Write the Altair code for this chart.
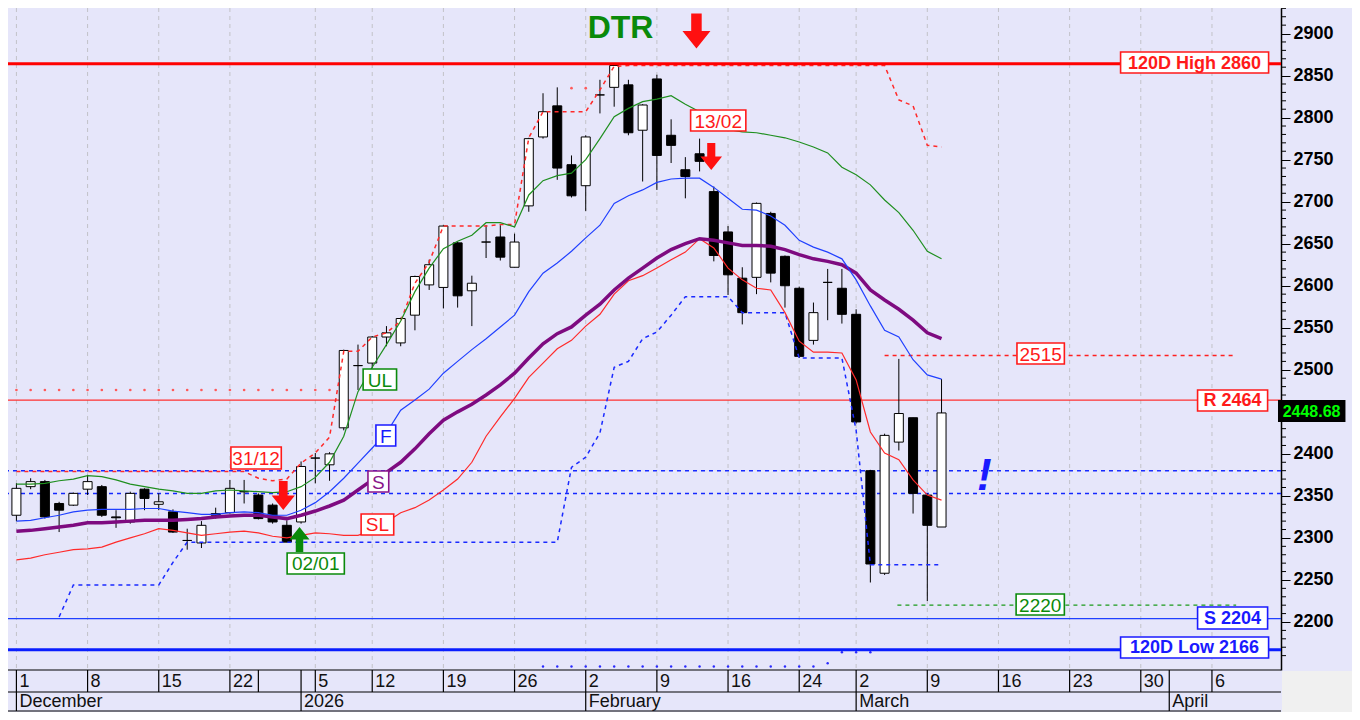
import altair as alt
import pandas as pd

# ---------------- price bars: trading-day index 0..65 (1 Dec 2025 .. 10 Mar 2026) -------------
opens = [2327, 2361, 2367, 2341, 2339, 2358, 2361, 2325, 2319, 2358,
         2340, 2331, 2297, 2294, 2329, 2330, 2355, 2351, 2339, 2315,
         2319, 2395, 2387, 2431, 2505, 2508, 2539, 2532, 2565, 2601,
         2598, 2651, 2594, 2652, 2658, 2622, 2695, 2777, 2814, 2744,
         2719, 2827, 2836, 2839, 2785, 2846, 2779, 2738, 2757, 2712,
         2664, 2609, 2610, 2686, 2635, 2597, 2535, 2604, 2597, 2566,
         2380, 2258, 2414, 2443, 2351, 2313]
highs = [2365, 2371, 2369, 2343, 2354, 2375, 2363, 2333, 2355, 2359,
         2353, 2334, 2311, 2320, 2336, 2369, 2369, 2353, 2341, 2321,
         2391, 2401, 2402, 2524, 2530, 2540, 2552, 2562, 2612, 2631,
         2672, 2652, 2612, 2672, 2672, 2662, 2776, 2829, 2836, 2755,
         2779, 2845, 2864, 2845, 2816, 2851, 2798, 2753, 2775, 2718,
         2671, 2622, 2699, 2688, 2636, 2599, 2580, 2620, 2620, 2572,
         2381, 2424, 2513, 2443, 2353, 2489]
lows = [2320, 2358, 2323, 2307, 2338, 2351, 2325, 2312, 2317, 2333,
        2333, 2306, 2286, 2288, 2323, 2329, 2341, 2322, 2317, 2295,
        2317, 2365, 2368, 2428, 2476, 2502, 2528, 2528, 2547, 2595,
        2573, 2574, 2552, 2633, 2630, 2622, 2688, 2775, 2726, 2705,
        2689, 2805, 2813, 2779, 2724, 2714, 2746, 2704, 2736, 2629,
        2589, 2554, 2590, 2604, 2574, 2514, 2530, 2559, 2555, 2436,
        2247, 2256, 2404, 2329, 2225, 2313]
closes = [2359, 2367, 2325, 2333, 2353, 2367, 2327, 2324, 2353, 2347,
          2343, 2307, 2297, 2315, 2327, 2359, 2355, 2323, 2319, 2295,
          2385, 2395, 2400, 2523, 2505, 2539, 2544, 2561, 2611, 2625,
          2671, 2588, 2603, 2652, 2634, 2652, 2775, 2807, 2740, 2707,
          2777, 2827, 2862, 2782, 2815, 2755, 2767, 2730, 2748, 2636,
          2613, 2568, 2698, 2615, 2600, 2516, 2568, 2604, 2566, 2438,
          2269, 2422, 2448, 2353, 2315, 2448.68]

# ---------------- indicator lines (one value per bar) ----------------
ul_line = [2364, 2364, 2365, 2368, 2370, 2374, 2373, 2369, 2364, 2361,
           2358, 2356, 2353, 2353, 2356, 2357, 2356, 2355, 2354, 2355,
           2361, 2372, 2390, 2421, 2474, 2503, 2530, 2558, 2593, 2621,
           2644, 2653, 2660, 2675, 2675, 2670, 2708, 2725, 2731, 2734,
           2750, 2775, 2801, 2811, 2819, 2822, 2826, 2816, 2807, 2795,
           2786, 2783, 2782, 2779, 2776, 2771, 2765, 2758, 2741, 2732,
           2720, 2702, 2687, 2666, 2641, 2632]
f_line = [2320, 2321, 2324, 2327, 2331, 2333, 2334, 2334, 2334, 2335,
          2335, 2332, 2330, 2328, 2328, 2330, 2331, 2330, 2327, 2327,
          2333, 2342, 2355, 2371, 2389, 2407, 2425, 2452, 2464, 2477,
          2496, 2510, 2524, 2537, 2551, 2565, 2593, 2615, 2627, 2641,
          2657, 2672, 2698, 2707, 2714, 2723, 2727, 2728, 2728, 2717,
          2704, 2691, 2690, 2683, 2672, 2654, 2646, 2640, 2632, 2607,
          2576, 2547, 2539, 2512, 2494, 2489]
s_line = [2308, 2309, 2311, 2313, 2315, 2318, 2318, 2319, 2320, 2321,
          2321, 2321, 2322, 2323, 2325, 2326, 2327, 2327, 2325, 2323,
          2327, 2332, 2338, 2345, 2357, 2369, 2378, 2390, 2406, 2424,
          2440, 2450, 2459, 2470, 2482, 2496, 2514, 2531, 2543, 2551,
          2565, 2578, 2595, 2609, 2621, 2633, 2643, 2650, 2656, 2654,
          2651, 2648, 2648, 2647, 2643, 2637, 2632, 2629, 2625, 2615,
          2595, 2583, 2572, 2559, 2544, 2537]
sl_line = [2274, 2276, 2280, 2283, 2286, 2287, 2289, 2295, 2300, 2305,
           2311, 2309, 2306, 2303, 2305, 2307, 2308, 2306, 2302, 2300,
           2303, 2306, 2305, 2303, 2303, 2309, 2319, 2330, 2336, 2345,
           2357, 2370, 2390, 2421, 2444, 2466, 2491, 2508, 2525, 2535,
           2552, 2566, 2590, 2606, 2612, 2621, 2631, 2640, 2656, 2645,
           2621, 2607, 2597, 2595, 2568, 2534, 2521, 2521, 2520, 2488,
           2426, 2401, 2393, 2369, 2351, 2345]
hh_line = [2379, 2379, 2379, 2379, 2379, 2379, 2379, 2379, 2379, 2379,
           2379, 2379, 2379, 2379, 2379, 2379, 2379, 2371, 2368, 2370,
           2389, 2401, 2420, 2522, 2522, 2539, 2544, 2558, 2603, 2628,
           2671, 2671, 2671, 2671, 2673, 2673, 2776, 2807, 2807, 2807,
           2807, 2833, 2861, 2862, 2862, 2862, 2862, 2862, 2862, 2862,
           2862, 2862, 2862, 2862, 2862, 2862, 2862, 2862, 2862, 2862,
           2862, 2862, 2821, 2814, 2767, 2765]
ll_line = [None, None, None, 2206, 2244, 2244, 2244, 2244, 2244, 2244,
           2244, 2271, 2295, 2295, 2295, 2295, 2295, 2295, 2295, 2295,
           2295, 2295, 2295, 2295, 2295, 2295, 2295, 2295, 2295, 2295,
           2295, 2295, 2295, 2295, 2295, 2295, 2295, 2295, 2295, 2384,
           2396, 2425, 2503, 2510, 2537, 2545, 2565, 2587, 2587, 2587,
           2587, 2568, 2568, 2568, 2568, 2514, 2514, 2514, 2514, 2428,
           2268, 2268, 2268, 2268, 2268, 2268]

# dotted marker series
rdot_idx = [0, 1, 2, 3, 4, 5, 6, 7, 8, 9, 10, 11, 12, 13, 14, 15, 16, 17, 18, 19, 20, 21, 22, 39, 40]
rdot_val = [2476, 2476, 2476, 2476, 2476, 2476, 2476, 2476, 2476, 2476, 2476, 2476, 2476,
            2476, 2476, 2476, 2476, 2476, 2476, 2476, 2476, 2476, 2476, 2835, 2835]
bdot_idx = [37, 38, 39, 40, 41, 42, 43, 44, 45, 46, 47, 48, 49, 50, 51, 52, 53, 54, 55, 56, 57, 58, 59, 60]
bdot_val = [2147, 2147, 2147, 2147, 2147, 2147, 2147, 2147, 2147, 2147, 2147, 2147, 2147,
            2147, 2147, 2147, 2147, 2147, 2147, 2147, 2151, 2164, 2164, 2164]

# horizontal levels
high120 = 2864
low120 = 2167
r_level = 2464
s_level = 2204
blue_levels = [2380, 2353]
level_2515 = 2517
level_2220 = 2220

# price-axis labels (2450 is hidden behind the last-price box)
y_labels = [2200, 2250, 2300, 2350, 2400, 2500, 2550, 2600, 2650, 2700, 2750, 2800, 2850, 2900]
y_major = [2200, 2250, 2300, 2350, 2400, 2450, 2500, 2550, 2600, 2650, 2700, 2750, 2800, 2850, 2900]

# date axis (bar indices)
grid_idx = [0, 5, 10, 15, 21, 25, 30, 35, 40, 45, 50, 55, 59, 64, 69, 74, 79, 84]
day_sep = [0, 5, 10, 15, 17, 20, 21, 25, 30, 35, 40, 45, 50, 55, 59, 64, 69, 74, 79, 81, 84]
day_idx = [0, 5, 10, 15, 21, 25, 30, 35, 40, 45, 50, 55, 59, 64, 69, 74, 79, 84]
day_txt = ["1", "8", "15", "22", "5", "12", "19", "26", "2", "9", "16", "24", "2", "9", "16", "23", "30", "6"]
month_idx = [0, 20, 40, 59, 81]
month_txt = ["December", "2026", "February", "March", "April"]

# annotation boxes: text, x1, x2 (bar index), top, bottom (price), colour, bold
box_txt = ["120D High 2860", "R 2464", "S 2204", "120D Low 2166", "2515", "2220",
           "13/02", "31/12", "02/01", "UL", "F", "S", "SL"]
box_x1 = [77.58, 82.99, 82.99, 77.58, 70.30, 70.24, 47.37, 15.07, 19.02, 24.36, 25.26, 24.70, 24.22]
box_x2 = [87.98, 87.91, 87.91, 87.98, 73.63, 73.63, 51.25, 18.61, 23.04, 26.71, 26.65, 26.16, 26.51]
box_top = [2878.0, 2476.0, 2217.8, 2182.2, 2531.9, 2233.3, 2809.0, 2408.2, 2282.1, 2500.9, 2434.3, 2379.6, 2328.5]
box_bot = [2853.0, 2451.0, 2191.7, 2157.2, 2506.9, 2208.3, 2784.0, 2382.0, 2257.1, 2476.0, 2409.4, 2354.6, 2303.5]
RED, GRN, BLU, PUR = "#ff1a1a", "#0b8a0b", "#1a1aff", "#8a168a"
box_col = [RED, RED, BLU, BLU, RED, GRN, RED, RED, GRN, GRN, BLU, PUR, RED]
box_bold = [True, True, True, True, False, False, False, False, False, False, False, False, False]

# arrows
DOWN = "M-0.3,-1L0.3,-1L0.3,0L0.8,0L0,1L-0.8,0L-0.3,0Z"
UP = "M-0.3,1L0.3,1L0.3,0L0.8,0L0,-1L-0.8,0L-0.3,0Z"
arr_idx = [47.78, 48.82, 18.75, 19.89]
arr_val = [2903.0, 2753.7, 2350.5, 2298.1]
arr_shape = [DOWN, DOWN, DOWN, UP]
arr_size = [1225, 729, 841, 625]
arr_col = ["#ff1010", "#ff1010", "#ff1010", "#0a8a0a"]

last_close_txt = "2448.68"

# ---------------- chart ----------------
W, H = 1273, 662
PADR, PADB = 71, 42
FONT = "Liberation Sans"
xs = alt.Scale(domain=[-0.24, 88.5], nice=False, zero=False)
ys = alt.Scale(domain=[2142.9, 2930.4], nice=False, zero=False)
YAX = alt.Axis(orient="right", values=y_labels, format="d", title=None,
               labelFont=FONT, labelFontSize=18, labelFontWeight="bold", labelColor="#000000",
               tickSize=9, tickColor="#000000", tickWidth=1, domainColor="#000000", domainWidth=1.5,
               labelPadding=3, grid=False, labelOverlap=False, labelFlush=False)


def X(f="i"):
    return alt.X(f"{f}:Q", scale=xs, axis=None)


def Y(f="v"):
    return alt.Y(f"{f}:Q", scale=ys, axis=YAX)


N = len(opens)
dummy = pd.DataFrame({"k": [0]})
layers = []

# vertical dashed grid
layers.append(alt.Chart(pd.DataFrame({"i": grid_idx})).mark_rule(
    color="#c2c2c8", strokeDash=[4, 4], strokeWidth=1).encode(x=X()))


def hline(val, color, w, dash=None):
    kw = {"strokeDash": dash} if dash else {}
    return alt.Chart(pd.DataFrame({"v": [val]})).mark_rule(color=color, strokeWidth=w, **kw).encode(y=Y())


for bv in blue_levels:
    layers.append(hline(bv, "#1428ff", 1.5, [4, 4]))
layers.append(hline(r_level, "#ff3030", 1.3))
layers.append(hline(s_level, "#2040ff", 1.3))

# partial dashed levels
layers.append(alt.Chart(pd.DataFrame({"a": [61.0], "b": [85.7], "v": [level_2515]})).mark_rule(
    color="#ff2020", strokeWidth=1.3, strokeDash=[4, 4]).encode(x=X("a"), x2="b:Q", y=Y()))
layers.append(alt.Chart(pd.DataFrame({"a": [61.9], "b": [85.7], "v": [level_2220]})).mark_rule(
    color="#1a9a1a", strokeWidth=1.3, strokeDash=[4, 4]).encode(x=X("a"), x2="b:Q", y=Y()))

# dots
layers.append(alt.Chart(pd.DataFrame({"i": rdot_idx, "v": rdot_val})).mark_circle(
    size=7, color="#ff5a5a", opacity=1).encode(x=X(), y=Y()))
layers.append(alt.Chart(pd.DataFrame({"i": bdot_idx, "v": bdot_val})).mark_circle(
    size=6, color="#2a2aff", opacity=1).encode(x=X(), y=Y()))

# candles
cand = pd.DataFrame({"i": list(range(N)), "open": opens, "high": highs, "low": lows, "close": closes})
cand["fill"] = ["#ffffff" if c >= o else "#000000" for o, c in zip(opens, closes)]
layers.append(alt.Chart(cand).mark_rule(color="#000000", strokeWidth=1).encode(
    x=X(), y=Y("low"), y2="high:Q"))
layers.append(alt.Chart(cand).mark_bar(width=9, stroke="#000000", strokeWidth=1).encode(
    x=X(), y=Y("open"), y2="close:Q", fill=alt.Fill("fill:N", scale=None)))


def series(vals, color, w, dash=None):
    d = pd.DataFrame({"i": list(range(N)), "v": vals}).dropna()
    kw = {"strokeDash": dash} if dash else {}
    return alt.Chart(d).mark_line(color=color, strokeWidth=w, **kw).encode(x=X(), y=Y())


layers.append(series(hh_line, "#ff2a2a", 1.5, [4, 4]))
layers.append(series(ll_line, "#1a2aff", 1.5, [4, 4]))
layers.append(series(sl_line, "#ff2a2a", 1.2))
layers.append(series(s_line, "#7e0b80", 3.5))
layers.append(series(f_line, "#2040ff", 1.2))
layers.append(series(ul_line, "#1f8f1f", 1.2))

# thick 120D lines
layers.append(hline(high120, "#ff0000", 3))
layers.append(hline(low120, "#0a1eff", 3))

# annotation boxes
boxes = pd.DataFrame({"t": box_txt, "a": box_x1, "b": box_x2, "v": box_top, "v2": box_bot,
                      "col": box_col, "bold": box_bold})
boxes["cx"] = (boxes["a"] + boxes["b"]) / 2
boxes["cy"] = (boxes["v"] + boxes["v2"]) / 2
layers.append(alt.Chart(boxes).mark_rect(fill="#ffffff", strokeWidth=1.6).encode(
    x=X("a"), x2="b:Q", y=Y("v"), y2="v2:Q", stroke=alt.Stroke("col:N", scale=None)))
layers.append(alt.Chart(boxes[boxes["bold"]]).mark_text(
    font=FONT, fontSize=18, fontWeight="bold", align="center", baseline="middle", dy=1).encode(
    x=X("cx"), y=Y("cy"), text="t:N", color=alt.Color("col:N", scale=None)))
layers.append(alt.Chart(boxes[~boxes["bold"]]).mark_text(
    font=FONT, fontSize=19, align="center", baseline="middle", dy=1).encode(
    x=X("cx"), y=Y("cy"), text="t:N", color=alt.Color("col:N", scale=None)))

# arrows
arr = pd.DataFrame({"i": arr_idx, "v": arr_val, "shape": arr_shape, "sz": arr_size, "col": arr_col})
layers.append(alt.Chart(arr).mark_point(filled=True, opacity=1, strokeWidth=0).encode(
    x=X(), y=Y(), shape=alt.Shape("shape:N", scale=None), size=alt.Size("sz:Q", scale=None),
    color=alt.Color("col:N", scale=None)))

# DTR and "!"
layers.append(alt.Chart(pd.DataFrame({"i": [42.45], "v": [2906.6], "t": ["DTR"]})).mark_text(
    font=FONT, fontSize=32, fontWeight="bold", color="#0a8a0a", align="center", baseline="middle").encode(
    x=X(), y=Y(), text="t:N"))
layers.append(alt.Chart(pd.DataFrame({"i": [68.0], "v": [2372.5], "t": ["!"]})).mark_text(
    font=FONT, fontSize=44, fontWeight="bold", fontStyle="italic", color="#1a1aff", align="center",
    baseline="middle").encode(x=X(), y=Y(), text="t:N"))

# minor ticks and the unlabeled major tick on the price axis
minor = [v for v in range(2150, 2931, 10) if v % 50 != 0]
layers.append(alt.Chart(pd.DataFrame({"v": minor})).mark_rule(color="#000000", strokeWidth=1).encode(
    x=alt.value(W), x2=alt.value(W + 5), y=Y()))
layers.append(alt.Chart(pd.DataFrame({"v": [m for m in y_major if m not in y_labels]})).mark_rule(
    color="#000000", strokeWidth=1).encode(x=alt.value(W), x2=alt.value(W + 9), y=Y()))

# last price box
lp = pd.DataFrame({"a": [88.64], "b": [93.38], "v": [2464.1], "v2": [2437.9], "cx": [91.0], "cy": [2451.0],
                   "t": [last_close_txt]})
layers.append(alt.Chart(lp).mark_rect(fill="#000000").encode(x=X("a"), x2="b:Q", y=Y("v"), y2="v2:Q"))
layers.append(alt.Chart(lp).mark_text(font=FONT, fontSize=16, fontWeight="bold", color="#00ff00",
                                      align="center", baseline="middle", dy=1).encode(
    x=X("cx"), y=Y("cy"), text="t:N"))

# date axis
for yy in [H, H + 22, H + 41]:
    layers.append(alt.Chart(dummy).mark_rule(color="#000000", strokeWidth=1.2).encode(
        x=alt.value(0), x2=alt.value(W), y=alt.value(yy)))
layers.append(alt.Chart(pd.DataFrame({"i": day_sep})).mark_rule(color="#000000", strokeWidth=1.2).encode(
    x=X(), y=alt.value(H), y2=alt.value(H + 22)))
layers.append(alt.Chart(pd.DataFrame({"i": month_idx})).mark_rule(color="#000000", strokeWidth=1.2).encode(
    x=X(), y=alt.value(H + 22), y2=alt.value(H + 41)))
layers.append(alt.Chart(pd.DataFrame({"i": day_idx, "t": day_txt})).mark_text(
    font=FONT, fontSize=18, color="#111111", align="left", baseline="middle", dx=3).encode(
    x=X(), y=alt.value(H + 12), text="t:N"))
layers.append(alt.Chart(pd.DataFrame({"i": month_idx, "t": month_txt})).mark_text(
    font=FONT, fontSize=18, color="#111111", align="left", baseline="middle", dx=3).encode(
    x=X(), y=alt.value(H + 32), text="t:N"))
layers.append(alt.Chart(dummy).mark_rect(color="#f0f0f0").encode(
    x=alt.value(W + 1), x2=alt.value(W + PADR), y=alt.value(H + 1), y2=alt.value(H + PADB)))

chart = alt.layer(*layers).properties(
    width=W, height=H,
    padding={"left": 0, "top": 0, "right": PADR, "bottom": PADB},
    autosize=alt.AutoSizeParams(type="none"),
).configure(background="#e6e6fa").configure_view(strokeWidth=0)

chart.save("out.html", embed_options={"renderer": "svg", "actions": False})
